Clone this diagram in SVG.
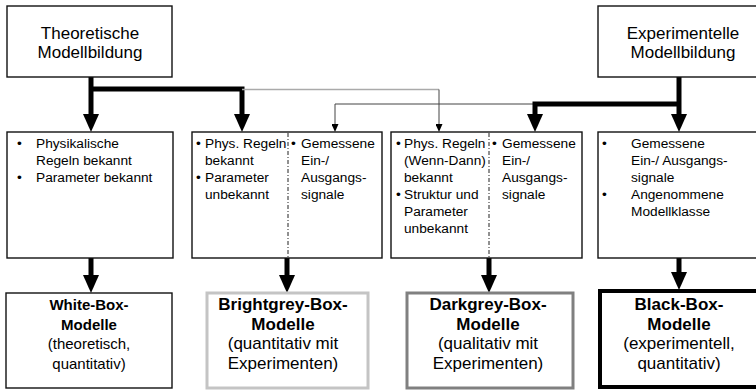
<svg xmlns="http://www.w3.org/2000/svg" width="756" height="391" viewBox="0 0 756 391">
<style>
text{font-family:"Liberation Sans",Arial,sans-serif;fill:#000}
.h{font-size:17px;text-anchor:middle}
.m{font-size:13.7px}
.b{font-size:15px;text-anchor:middle}
.b2{font-size:17px}
.bb{font-weight:bold}
.box{fill:#fff;stroke:#111;stroke-width:1.4}
.div{stroke:#222;stroke-width:1;stroke-dasharray:4 2 1 2}
.thick{fill:none;stroke:#000;stroke-width:5}
.thin{fill:none;stroke:#444;stroke-width:1}
</style>
<defs>
<marker id="ah" markerUnits="userSpaceOnUse" viewBox="0 0 18 16" refX="8" refY="8" markerWidth="18" markerHeight="16" orient="auto">
<path d="M0,0 L18,8 L0,16 z" fill="#000"/>
</marker>
<marker id="as" markerUnits="userSpaceOnUse" viewBox="0 0 8 7" refX="0" refY="3.5" markerWidth="8" markerHeight="7" orient="auto">
<path d="M0,0 L8,3.5 L0,7 z" fill="#000"/>
</marker>
</defs>

<g id="connectors">
<path class="thick" d="M91,77 V122" marker-end="url(#ah)"/>
<path class="thick" d="M91,89 H242 V122" marker-end="url(#ah)"/>
<path fill="none" stroke="#aaa" stroke-width="1.3" d="M242,89.5 H439"/>
<path class="thin" d="M439,89.5 V124" marker-end="url(#as)"/>
<path class="thin" d="M535,104 H335 V124" marker-end="url(#as)"/>
<path class="thick" d="M679,77 V122" marker-end="url(#ah)"/>
<path class="thick" d="M679,104 H535 V122" marker-end="url(#ah)"/>
<path class="thick" d="M91,258 V283" marker-end="url(#ah)"/>
<path class="thick" d="M287,258 V283" marker-end="url(#ah)"/>
<path class="thick" d="M489,258 V283" marker-end="url(#ah)"/>
<path class="thick" d="M679,258 V280" marker-end="url(#ah)"/>
</g>

<g id="theoretische">
<rect class="box" x="7" y="6" width="165" height="71"/>
<text class="h" x="90" y="39">Theoretische</text>
<text class="h" x="90" y="58">Modellbildung</text>
</g>

<g id="experimentelle">
<rect class="box" x="598" y="6" width="170" height="71"/>
<text class="h" x="683" y="39">Experimentelle</text>
<text class="h" x="683" y="58">Modellbildung</text>
</g>

<g id="mid1">
<rect class="box" x="7" y="132" width="166" height="126"/>
<text class="m" x="17" y="148">•</text>
<text class="m" x="36" y="148">Physikalische</text>
<text class="m" x="36" y="165">Regeln bekannt</text>
<text class="m" x="17" y="182">•</text>
<text class="m" x="36" y="182">Parameter bekannt</text>
</g>

<g id="mid2">
<rect class="box" x="192" y="132" width="190" height="126"/>
<line class="div" x1="288" y1="133" x2="288" y2="257"/>
<text class="m" x="196" y="148">•</text>
<text class="m" x="205" y="148">Phys. Regeln</text>
<text class="m" x="205" y="165">bekannt</text>
<text class="m" x="196" y="182">•</text>
<text class="m" x="205" y="182">Parameter</text>
<text class="m" x="205" y="199">unbekannt</text>
<text class="m" x="291" y="148">•</text>
<text class="m" x="301" y="148">Gemessene</text>
<text class="m" x="301" y="165">Ein-/</text>
<text class="m" x="301" y="182">Ausgangs-</text>
<text class="m" x="301" y="199">signale</text>
</g>

<g id="mid3">
<rect class="box" x="391" y="132" width="191" height="126"/>
<line class="div" x1="489" y1="133" x2="489" y2="257"/>
<text class="m" x="396" y="148">•</text>
<text class="m" x="404" y="148">Phys. Regeln</text>
<text class="m" x="404" y="165">(Wenn-Dann)</text>
<text class="m" x="404" y="182">bekannt</text>
<text class="m" x="396" y="199">•</text>
<text class="m" x="404" y="199">Struktur und</text>
<text class="m" x="404" y="216">Parameter</text>
<text class="m" x="404" y="233">unbekannt</text>
<text class="m" x="492" y="148">•</text>
<text class="m" x="502" y="148">Gemessene</text>
<text class="m" x="502" y="165">Ein-/</text>
<text class="m" x="502" y="182">Ausgangs-</text>
<text class="m" x="502" y="199">signale</text>
</g>

<g id="mid4">
<rect class="box" x="598" y="132" width="170" height="126"/>
<text class="m" x="602" y="148">•</text>
<text class="m" x="631" y="148">Gemessene</text>
<text class="m" x="631" y="165">Ein-/ Ausgangs-</text>
<text class="m" x="631" y="182">signale</text>
<text class="m" x="602" y="199">•</text>
<text class="m" x="631" y="199">Angenommene</text>
<text class="m" x="631" y="216">Modellklasse</text>
</g>

<g id="whitebox">
<rect class="box" x="6" y="293" width="166" height="95"/>
<text class="b bb" x="89" y="310">White-Box-</text>
<text class="b bb" x="89" y="329.5">Modelle</text>
<text class="b" x="89" y="349">(theoretisch,</text>
<text class="b" x="89" y="368.5">quantitativ)</text>
</g>

<g id="brightgreybox">
<rect x="207" y="293" width="161" height="95" fill="#fff" stroke="#c4c4c4" stroke-width="3"/>
<text class="b b2 bb" x="283" y="310">Brightgrey-Box-</text>
<text class="b b2 bb" x="283" y="329.5">Modelle</text>
<text class="b b2" x="283" y="349">(quantitativ mit</text>
<text class="b b2" x="283" y="368.5">Experimenten)</text>
</g>

<g id="darkgreybox">
<rect x="407" y="293" width="166" height="95" fill="#fff" stroke="#808080" stroke-width="3"/>
<text class="b b2 bb" x="488" y="310">Darkgrey-Box-</text>
<text class="b b2 bb" x="488" y="329.5">Modelle</text>
<text class="b b2" x="488" y="349">(qualitativ mit</text>
<text class="b b2" x="488" y="368.5">Experimenten)</text>
</g>

<g id="blackbox">
<rect x="600" y="291" width="162" height="96" fill="#fff" stroke="#000" stroke-width="4"/>
<text class="b b2 bb" x="679" y="310">Black-Box-</text>
<text class="b b2 bb" x="679" y="329.5">Modelle</text>
<text class="b b2" x="679" y="349">(experimentell,</text>
<text class="b b2" x="679" y="368.5">quantitativ)</text>
</g>
</svg>
